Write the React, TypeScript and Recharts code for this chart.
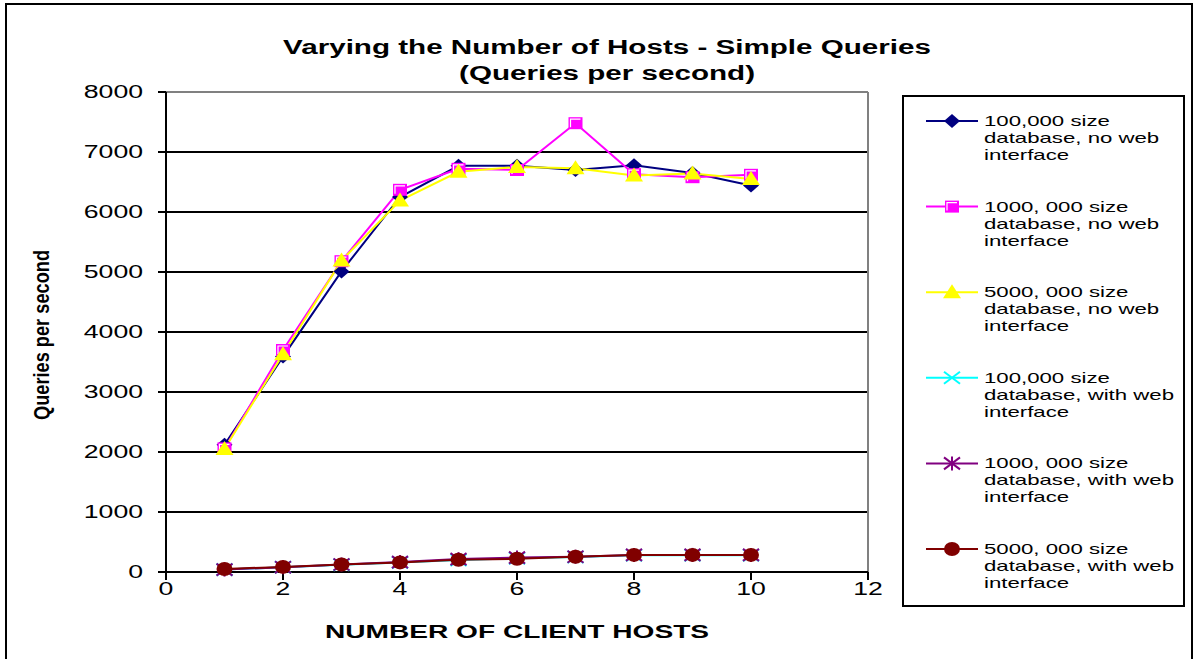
import React from "react"
import { LineChart, Line, XAxis, YAxis, ReferenceLine } from "recharts"

const hosts = [1, 2, 3, 4, 5, 6, 7, 8, 9, 10]
const noWeb100k = [2120, 3590, 5010, 6250, 6770, 6770, 6700, 6780, 6650, 6440]
const noWeb1m = [2060, 3700, 5180, 6370, 6720, 6700, 7480, 6630, 6580, 6620]
const noWeb5m = [2050, 3630, 5190, 6190, 6670, 6750, 6730, 6610, 6640, 6550]
const web100k = [40, 80, 120, 160, 200, 230, 250, 280, 280, 280]
const web1m = [40, 80, 125, 165, 215, 240, 255, 285, 285, 285]
const web5m = [50, 85, 125, 160, 205, 220, 255, 285, 285, 285]

const xTicks = [0, 2, 4, 6, 8, 10, 12]
const yTicks = [0, 1000, 2000, 3000, 4000, 5000, 6000, 7000, 8000]
const gridValues = [1000, 2000, 3000, 4000, 5000, 6000, 7000]

const data = hosts.map((h, i) => ({
  hosts: h,
  a: noWeb100k[i],
  b: noWeb1m[i],
  c: noWeb5m[i],
  d: web100k[i],
  e: web1m[i],
  f: web5m[i],
}))

const FONT = "Arial, 'Liberation Sans', sans-serif"
// the original picture is stretched sideways, text included
const SX = 1.48

type Shape = "diamond" | "square" | "triangle" | "x" | "star" | "circle"

function marker(shape: Shape, color: string, cx: number, cy: number, key?: any) {
  if (cx == null || cy == null) return <g key={key} />
  switch (shape) {
    case "diamond":
      return <polygon key={key} points={`${cx},${cy - 7} ${cx + 8},${cy} ${cx},${cy + 7} ${cx - 8},${cy}`} fill={color} />
    case "square":
      return (
        <g key={key}>
          <rect x={cx - 7} y={cy - 6} width={14} height={12} fill={color} />
          <polyline points={`${cx - 5},${cy + 4} ${cx - 5},${cy - 4} ${cx + 5},${cy - 4}`} fill="none" stroke="#fff" strokeWidth={1.2} />
        </g>
      )
    case "triangle":
      return <polygon key={key} points={`${cx},${cy - 8} ${cx + 9},${cy + 6} ${cx - 9},${cy + 6}`} fill={color} />
    case "x":
      return (
        <g key={key} stroke={color} strokeWidth={2}>
          <line x1={cx - 8} y1={cy - 6} x2={cx + 8} y2={cy + 6} />
          <line x1={cx - 8} y1={cy + 6} x2={cx + 8} y2={cy - 6} />
        </g>
      )
    case "star":
      return (
        <g key={key} stroke={color} strokeWidth={2}>
          <line x1={cx - 8} y1={cy - 6} x2={cx + 8} y2={cy + 6} />
          <line x1={cx - 8} y1={cy + 6} x2={cx + 8} y2={cy - 6} />
          <line x1={cx} y1={cy - 7} x2={cx} y2={cy + 7} />
        </g>
      )
    default:
      return <ellipse key={key} cx={cx} cy={cy} rx={8} ry={7} fill={color} />
  }
}

const series: { key: string; color: string; shape: Shape; lines: string[] }[] = [
  { key: "a", color: "#000080", shape: "diamond", lines: ["100,000 size", "database, no web", "interface"] },
  { key: "b", color: "#FF00FF", shape: "square", lines: ["1000, 000 size", "database, no web", "interface"] },
  { key: "c", color: "#FFFF00", shape: "triangle", lines: ["5000, 000 size", "database, no web", "interface"] },
  { key: "d", color: "#00FFFF", shape: "x", lines: ["100,000 size", "database, with web", "interface"] },
  { key: "e", color: "#800080", shape: "star", lines: ["1000, 000 size", "database, with web", "interface"] },
  { key: "f", color: "#800000", shape: "circle", lines: ["5000, 000 size", "database, with web", "interface"] },
]

function WideText({ x, y, size, anchor, bold, children, dy }: any) {
  return (
    <text
      transform={`translate(${x},${y}) scale(${SX},1)`}
      textAnchor={anchor || "start"}
      fontSize={size}
      fontWeight={bold ? "bold" : "normal"}
      fontFamily={FONT}
      fill="#000"
      dy={dy}
    >
      {children}
    </text>
  )
}

function XTick(props: any) {
  const { x, y, payload } = props
  return <WideText x={x} y={y + 13} size={18} anchor="middle">{payload.value}</WideText>
}

function YTick(props: any) {
  const { x, y, payload } = props
  return <WideText x={x} y={y + 6} size={18} anchor="end">{payload.value}</WideText>
}

function LegendBox() {
  return (
    <div style={{ position: "absolute", left: 902, top: 95, width: 279, height: 508, border: "2px solid #000", background: "#fff" }}>
      <svg width={279} height={508}>
        {series.map((s, i) => {
          const y = 24 + i * 85.6
          return (
            <g key={s.key}>
              <line x1={22} y1={y} x2={74} y2={y} stroke={s.color} strokeWidth={2} />
              {marker(s.shape, s.color, 48, y)}
              {s.lines.map((t, j) => (
                <WideText key={j} x={80} y={y + 5 + j * 17} size={15}>
                  {t}
                </WideText>
              ))}
            </g>
          )
        })}
      </svg>
    </div>
  )
}

export default function App() {
  return (
    <div style={{ position: "absolute", left: 0, top: 0, width: 1196, height: 659, background: "#fff", overflow: "hidden" }}>
      <div style={{ position: "absolute", left: 5, top: 3, width: 1184, height: 700, border: "2px solid #000" }} />
      <div style={{ position: "absolute", left: 0, top: 0 }}>
        <LineChart width={1196} height={659} data={data} margin={{ top: 92, right: 328, bottom: 47, left: 0 }}>
          <XAxis
            dataKey="hosts"
            type="number"
            domain={[0, 12]}
            ticks={xTicks}
            height={40}
            tickSize={8}
            stroke="#000"
            strokeWidth={2}
            tick={<XTick />}
          />
          <YAxis
            type="number"
            domain={[0, 8000]}
            ticks={yTicks}
            width={166}
            tickSize={8}
            tickMargin={15}
            stroke="#000"
            strokeWidth={2}
            interval={0}
            tick={<YTick />}
          />
          {gridValues.map((v) => (
            <ReferenceLine key={v} y={v} stroke="#000" strokeWidth={2} />
          ))}
          <ReferenceLine y={8000} stroke="#808080" strokeWidth={2} />
          <ReferenceLine x={12} stroke="#808080" strokeWidth={2} />
          {series.map((s) => (
            <Line
              key={s.key}
              dataKey={s.key}
              stroke={s.color}
              strokeWidth={2}
              isAnimationActive={false}
              dot={(p: any) => marker(s.shape, s.color, p.cx, p.cy, p.index)}
              activeDot={false}
            />
          ))}
        </LineChart>
      </div>
      <LegendBox />
      <svg width={1196} height={659} style={{ position: "absolute", left: 0, top: 0, pointerEvents: "none" }}>
        <WideText x={607} y={54} size={20} anchor="middle" bold>
          Varying the Number of Hosts - Simple Queries
        </WideText>
        <WideText x={607} y={80} size={20} anchor="middle" bold>
          (Queries per second)
        </WideText>
        <WideText x={517} y={638} size={19} anchor="middle" bold>
          NUMBER OF CLIENT HOSTS
        </WideText>
        <text
          x={0}
          y={0}
          transform={`translate(49,335) rotate(-90) scale(1,${SX})`}
          textAnchor="middle"
          fontSize={15}
          fontWeight="bold"
          fontFamily={FONT}
          textLength={170}
          lengthAdjust="spacingAndGlyphs"
        >
          Queries per second
        </text>
      </svg>
    </div>
  )
}
